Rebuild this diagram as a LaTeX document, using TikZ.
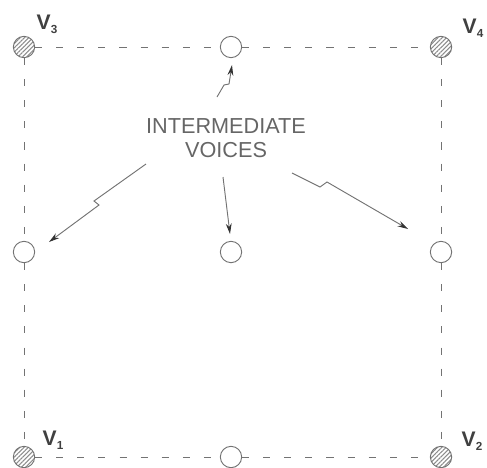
\documentclass[tikz,border=0pt]{standalone}
\usepackage{fontspec}
\setmainfont{Liberation Sans}
\usetikzlibrary{arrows.meta,patterns.meta,positioning}

\begin{document}
\begin{tikzpicture}[x=0.03cm,y=-0.03cm,
			corner node/.style={circle, draw=black!55, line width=0.8pt, inner sep=0pt, minimum size=0.64cm, pattern={Lines[angle=45,distance=2.6pt,line width=0.9pt]}, pattern color=black!45},
			voice node/.style={circle, draw=black!55, line width=0.8pt, inner sep=0pt, minimum size=0.64cm, fill=white},
			label node/.style={text=black!75, font=\bfseries\fontsize{18}{18}\selectfont, inner sep=0pt},
			text node/.style={text=black!60, align=center, font=\fontsize{18.5}{20}\selectfont, inner sep=0pt}]
			\useasboundingbox (0,0) rectangle (487,467);
			
			% corner voices
			\node[corner node] (1) at (24,457) {};
			\node[corner node] (2) at (441,457) {};
			\node[corner node] (3) at (24,47) {};
			\node[corner node] (4) at (441,47) {};
			\node[label node] (v1) at (53,440) {V\raisebox{-0.35ex}{\fontsize{10}{10}\selectfont 1}};
			\node[label node] (v2) at (472,441) {V\raisebox{-0.35ex}{\fontsize{10}{10}\selectfont 2}};
			\node[label node] (v3) at (47,24) {V\raisebox{-0.35ex}{\fontsize{10}{10}\selectfont 3}};
			\node[label node] (v4) at (473,28) {V\raisebox{-0.35ex}{\fontsize{10}{10}\selectfont 4}};
			
			% intermediate voices
			\node[voice node] (5) at (231,47) {};
			\node[voice node] (6) at (24,252) {};
			\node[voice node] (7) at (231,252) {};
			\node[voice node] (8) at (441,252) {};
			\node[voice node] (9) at (231,457) {};
			
			\node[text node] (10) at (226,138) {INTERMEDIATE\\VOICES};
			
			\path[draw=black!55, line width=0.8pt, dash pattern=on 6pt off 12pt]
			(3) edge (5) (5) edge (4)
			(1) edge (9) (9) edge (2)
			(3) edge (6) (6) edge (1)
			(4) edge (8) (8) edge (2);
			
			% arrows
			\coordinate (a1) at (217,97);
			\coordinate (b1) at (232,65);
			\coordinate (a2) at (223,177);
			\coordinate (b2) at (230,234);
			\coordinate (a3) at (146,164);
			\coordinate (b3) at (49,242);
			\coordinate (a4) at (292,173);
			\coordinate (b4) at (408,229);
			\begin{scope}[draw=black!55, line width=0.8pt, -{Stealth[length=9pt,width=5pt,color=black!80]}]
			\draw (a1) -- (224,85) -- (229,84) -- (b1);
			\draw (a2) -- (b2);
			\draw (a3) -- (94,201) -- (99,205) -- (b3);
			\draw (a4) -- (320,187) -- (327,182) -- (b4);
			\end{scope}
			
		\end{tikzpicture}
\end{document}
